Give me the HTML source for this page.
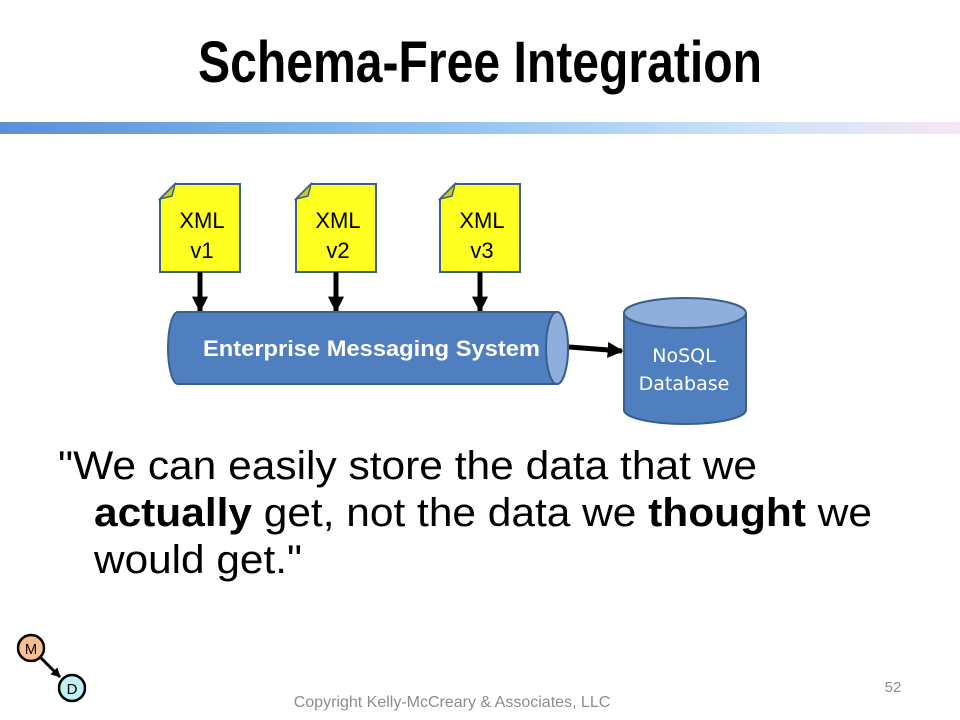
<!DOCTYPE html>
<html><head><meta charset="utf-8"><style>
body{margin:0;background:#fff;}
svg{display:block;}
</style></head><body>
<svg width="960" height="720" xmlns="http://www.w3.org/2000/svg" font-family="Liberation Sans, sans-serif">
<defs>
<linearGradient id="g" x1="0" x2="1" y1="0" y2="0">
<stop offset="0" stop-color="#5b8fd8"/><stop offset="0.45" stop-color="#8ec0f0"/><stop offset="0.8" stop-color="#d0e4f7"/><stop offset="1" stop-color="#f6e6f4"/>
</linearGradient>
<marker id="ah" viewBox="0 0 10 10" refX="9" refY="5" markerWidth="3.2" markerHeight="3.2" orient="auto"><path d="M0,0 L10,5 L0,10z" fill="#000"/></marker>
</defs>
<text x="198" y="82" font-family="Liberation Sans Narrow, Liberation Sans, sans-serif" font-weight="bold" font-size="58" textLength="564" lengthAdjust="spacingAndGlyphs">Schema-Free Integration</text>
<rect x="0" y="122" width="960" height="12" fill="url(#g)"/>

<g stroke="#3a5f8a" stroke-width="2" fill="#ffff22">
<path d="M175,184 H240 V272 H160 V199 Z"/>
<path d="M311,184 H376 V272 H296 V199 Z"/>
<path d="M455,184 H520 V272 H440 V199 Z"/>
</g>
<g fill="#c8c830" stroke="#3a5f8a" stroke-width="1.5">
<path d="M175,184 L160,199 L172,196 Z"/>
<path d="M311,184 L296,199 L308,196 Z"/>
<path d="M455,184 L440,199 L452,196 Z"/>
</g>
<g font-size="22" text-anchor="middle">
<text x="202" y="228">XML</text><text x="202" y="258">v1</text>
<text x="338" y="228">XML</text><text x="338" y="258">v2</text>
<text x="482" y="228">XML</text><text x="482" y="258">v3</text>
</g>
<g stroke="#000" stroke-width="5" marker-end="url(#ah)">
<line x1="200" y1="272" x2="200" y2="311"/>
<line x1="336" y1="272" x2="336" y2="311"/>
<line x1="480" y1="272" x2="480" y2="311"/>
<line x1="569" y1="347" x2="622" y2="351"/>
</g>

<path d="M178,312 H557 A11,36 0 0 1 557,384 H178 A10,36 0 0 1 178,312 Z" fill="#4f7fbe" stroke="#3a5f8a" stroke-width="2"/>
<ellipse cx="557" cy="348" rx="11" ry="36" fill="#8eaedb" stroke="#3a5f8a" stroke-width="2"/>
<text x="203" y="356" font-weight="bold" font-size="22" fill="#fff" textLength="337" lengthAdjust="spacingAndGlyphs">Enterprise Messaging System</text>

<path d="M624,313 V410 A61,14 0 0 0 746,410 V313" fill="#4f7fbe" stroke="#3a5f8a" stroke-width="2"/>
<ellipse cx="685" cy="313" rx="61" ry="15" fill="#8eaedb" stroke="#3a5f8a" stroke-width="2"/>
<text x="684" y="362" text-anchor="middle" font-family="DejaVu Sans, sans-serif" font-size="19" fill="#fff">NoSQL</text>
<text x="684" y="390" text-anchor="middle" font-family="DejaVu Sans, sans-serif" font-size="19" fill="#fff">Database</text>

<g font-size="40">
<text x="58" y="479" textLength="699" lengthAdjust="spacingAndGlyphs">"We can easily store the data that we</text>
<text x="94" y="526" textLength="778" lengthAdjust="spacingAndGlyphs"><tspan font-weight="bold">actually</tspan> get, not the data we <tspan font-weight="bold">thought</tspan> we</text>
<text x="94" y="573" textLength="208" lengthAdjust="spacingAndGlyphs">would get."</text>
</g>

<line x1="40" y1="657" x2="60" y2="677" stroke="#000" stroke-width="3" marker-end="url(#ah)"/>
<circle cx="31" cy="648" r="13" fill="#f9c08e" stroke="#000" stroke-width="2.5"/>
<text x="31" y="654" text-anchor="middle" font-size="15">M</text>
<circle cx="72" cy="688" r="13" fill="#bff0f4" stroke="#000" stroke-width="2.5"/>
<text x="72" y="694" text-anchor="middle" font-size="15">D</text>

<text x="452" y="707" text-anchor="middle" font-size="16" fill="#8c8c8c">Copyright Kelly-McCreary &amp; Associates, LLC</text>
<text x="893" y="692" text-anchor="middle" font-size="15" fill="#8c8c8c">52</text>
</svg>
</body></html>
